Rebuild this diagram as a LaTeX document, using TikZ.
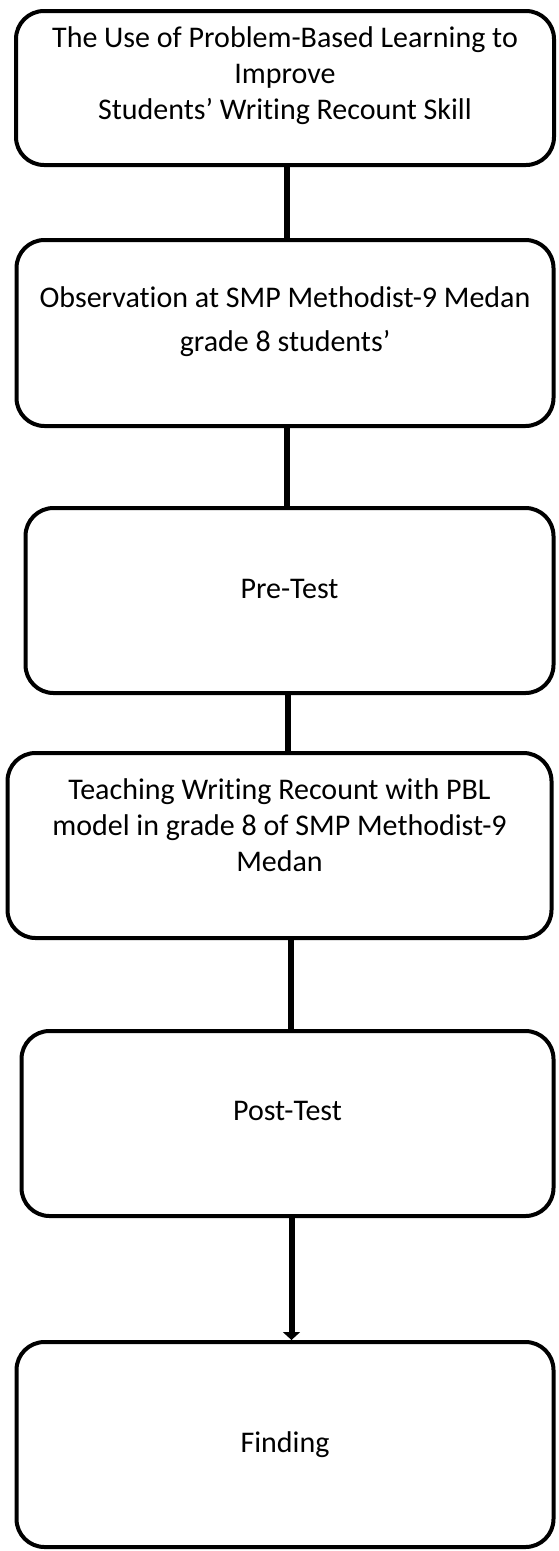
\documentclass[tikz,border=0pt]{standalone}
\usepackage{fontspec}
\setmainfont{Carlito}[Ligatures=CommonOff]
\usepackage{tikz}
\usetikzlibrary{positioning,arrows.meta}
\newcommand{\lift}[1]{\rule[-#1]{0pt}{#1}}

\begin{document}
\begin{tikzpicture}[x=1pt, y=1pt,
			box/.style={draw, line width=4pt, rounded corners=28pt, align=center, inner sep=0pt, font=\fontsize{30}{36}\selectfont},
			link/.style={line width=6pt}
		]
		\useasboundingbox (0,0) rectangle (558,-1551);
		\node[box, minimum width=538pt, minimum height=154pt] (title) at (285,-88) {The Use of Problem-Based Learning to\\ Improve\\ Students’ Writing Recount Skill\lift{30pt}};
		\node[box, minimum width=537pt, minimum height=186pt] (obs) [below=71pt of title] {Observation at SMP Methodist-9 Medan\\[8pt] grade 8 students’\lift{28pt}};
		\node[box, minimum width=528pt, minimum height=185pt] (pre) [below=78pt of obs, xshift=4.5pt] {Pre-Test\lift{24pt}};
		\node[box, minimum width=544pt, minimum height=185pt] (teach) [below=56pt of pre, xshift=-10pt] {Teaching Writing Recount with PBL\\ model in grade 8 of SMP Methodist-9\\ Medan\lift{40pt}};
		\node[box, minimum width=532pt, minimum height=185pt] (post) [below=89pt of teach, xshift=8pt] {Post-Test\lift{26pt}};
		\node[box, minimum width=537pt, minimum height=205pt] (find) [below=122pt of post, xshift=-2.5pt] {Finding};
		%\node[box] (res) [below=of find] {Result};

		\draw[link] ([xshift=2pt]title.south) -- ([xshift=2pt]title.south |- obs.north);
		\draw[link] ([xshift=1.5pt]obs.south) -- ([xshift=1.5pt]obs.south |- pre.north);
		\draw[link] ([xshift=-2pt]pre.south) -- ([xshift=-2pt]pre.south |- teach.north);
		\draw[link] ([xshift=11pt]teach.south) -- ([xshift=11pt]teach.south |- post.north);
		\draw[link, -{Triangle[width=17pt, length=8pt]}] ([xshift=4pt]post.south) -- ([xshift=4pt]post.south |- find.north);
\end{tikzpicture}
\end{document}
